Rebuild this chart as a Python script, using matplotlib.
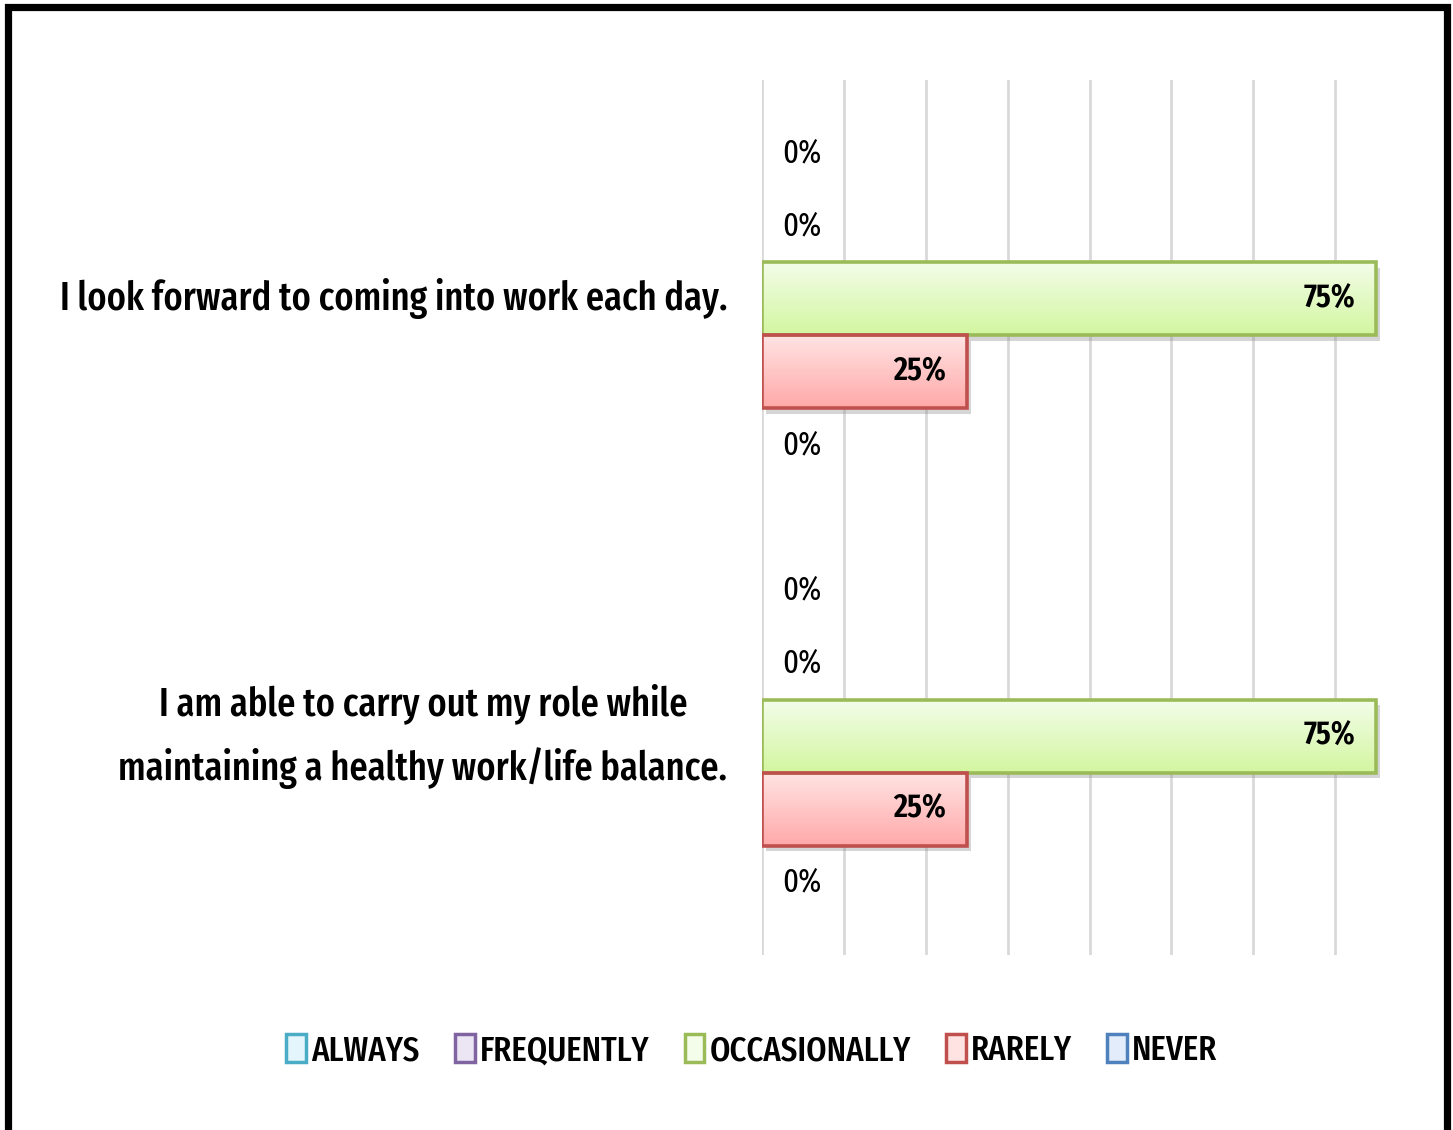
import numpy as np
import matplotlib.pyplot as plt
from matplotlib.patches import Patch, Rectangle
from matplotlib import patheffects as pe
from matplotlib.colors import LinearSegmentedColormap

# survey data
questions = ["I look forward to coming into work each day.",
             "I am able to carry out my role while\nmaintaining a healthy work/life balance."]
answers = ["ALWAYS", "FREQUENTLY", "OCCASIONALLY", "RARELY", "NEVER"]
always = [0.00, 0.00]
frequently = [0.00, 0.00]
occasionally = [0.75, 0.75]
rarely = [0.25, 0.25]
never = [0.00, 0.00]

# edge colour, light (top) fill, darker (bottom) fill
edge_cols = ["#4bacc6", "#8064a2", "#9bbb59", "#c0504d", "#4f81bd"]
top_cols = ["#e4f6fb", "#ece6f4", "#f3fde9", "#ffe3e3", "#e3ecfa"]
bot_cols = ["#b6e6f3", "#cfc1e3", "#d3f6a0", "#ffa9a9", "#b6cdf0"]

plt.rcParams['font.family'] = ['Fira Sans Extra Condensed', 'DejaVu Sans']

fig = plt.figure(figsize=(14.53, 11.30), dpi=100)
ax = fig.add_axes([762 / 1453, 1 - 955 / 1130, (1417 - 762) / 1453, 875 / 1130])

series = [always, frequently, occasionally, rarely, never]
h = 1 / 6
y = np.arange(len(questions))

for i, vals in enumerate(series):
    pos = y + (i - 2) * h
    for yy, v in zip(pos, vals):
        if v > 0:
            bar = ax.barh(yy, v, height=h, color=bot_cols[i], edgecolor="none", zorder=2,
                          path_effects=[pe.SimplePatchShadow(offset=(3, -4), alpha=0.35,
                                                             shadow_rgbFace="#888888"),
                                        pe.Normal()])[0]
            cmap = LinearSegmentedColormap.from_list("g", [top_cols[i], bot_cols[i]])
            grad = np.linspace(0, 1, 64).reshape(-1, 1)
            im = ax.imshow(grad, cmap=cmap, aspect="auto", zorder=3,
                           extent=(0, v, yy + h / 2, yy - h / 2), origin="upper")
            im.set_clip_path(bar)
            ax.barh(yy, v, height=h, fill=False, edgecolor=edge_cols[i], linewidth=2.6, zorder=4)
            ax.annotate(f"{v:.0%}", (v, yy), xytext=(-15, 0), textcoords="offset points",
                        ha="right", va="center", fontsize=24, fontweight="semibold", zorder=5)
        else:
            ax.annotate(f"{v:.0%}", (0, yy), xytext=(14.5, 0), textcoords="offset points",
                        ha="left", va="center", fontsize=24, zorder=5)

ax.set_xlim(0, 0.8)
ax.set_ylim(1.5, -0.5)
ax.set_xticks(np.arange(0, 0.71, 0.1))
ax.grid(axis="x", color="#d9d9d9", linewidth=2, zorder=0)
ax.set_axisbelow(True)
ax.tick_params(length=0, labelbottom=False, labelleft=False)
for s in ax.spines.values():
    s.set_visible(False)

# category labels, centred lines, right edge next to the axis
for yy, q in zip(y, questions):
    ax.annotate(q, (0, yy), xytext=(-25, 0), textcoords="offset points", ha="right",
                va="center", multialignment="center", fontsize=28.4, fontweight="medium",
                linespacing=1.7)

handles = [Patch(facecolor=top_cols[i], edgecolor=edge_cols[i], linewidth=2.5) for i in range(5)]
fig.legend(handles, answers, loc="center", bbox_to_anchor=(752 / 1453, 1 - 1051 / 1130),
           ncol=5, frameon=False, prop={"size": 25.5, "weight": "medium"},
           handlelength=0.55, handleheight=0.8, handletextpad=0.15, columnspacing=1.0)

# thick black frame around the figure
fig.patches.append(Rectangle((7.5 / 1453, -0.1), 1439 / 1453, 1.1 - 7.5 / 1130,
                             transform=fig.transFigure, fill=False, edgecolor="black",
                             linewidth=5.2, figure=fig))

fig.savefig("out.png", dpi=100)
